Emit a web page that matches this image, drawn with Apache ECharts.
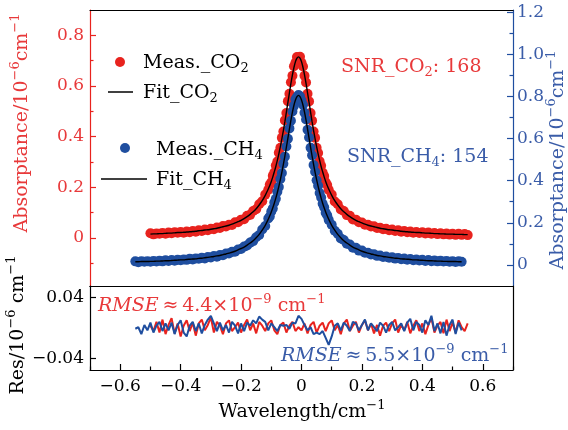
<!DOCTYPE html>
<html><head><meta charset="utf-8">
<script src="https://cdn.jsdelivr.net/npm/echarts@6/dist/echarts.min.js"></script>
<style>html,body{margin:0;padding:0;background:#fff}#c{width:568px;height:430px}</style>
</head><body><div id="c"></div><script>
// ---- data ----
const co2X = [-0.50,-0.49,-0.48,-0.47,-0.46,-0.45,-0.44,-0.43,-0.42,-0.41,-0.40,-0.39,-0.38,-0.37,-0.36,-0.35,-0.34,-0.33,-0.32,-0.31,-0.30,-0.29,-0.28,-0.27,-0.26,-0.25,-0.24,-0.23,-0.22,-0.21,-0.20,-0.19,-0.18,-0.17,-0.16,-0.15,-0.14,-0.13,-0.12,-0.11,
 -0.105,-0.10,-0.095,-0.09,-0.085,-0.08,-0.075,-0.07,-0.065,-0.06,-0.055,-0.05,-0.045,-0.04,-0.035,-0.03,-0.025,-0.02,-0.015,-0.01,-0.005,0,0.005,0.01,0.015,0.02,0.025,0.03,0.035,0.04,0.045,0.05,0.055,0.06,0.065,0.07,0.075,0.08,0.085,
 0.09,0.10,0.11,0.12,0.13,0.14,0.15,0.16,0.17,0.18,0.19,0.20,0.21,0.22,0.23,0.24,0.25,0.26,0.27,0.28,0.29,0.30,0.31,0.32,0.33,0.34,0.35,0.36,0.37,0.38,0.39,0.40,0.41,0.42,0.43,0.44,0.45,0.46,0.47,0.48,0.49,0.50,0.51,0.52,0.53,0.54,0.55];
const co2Meas = [0.018,0.014,0.017,0.016,0.019,0.016,0.021,0.018,0.022,0.020,0.023,0.020,0.025,0.022,0.027,0.024,0.030,0.027,0.033,0.030,0.036,0.034,0.041,0.039,0.047,0.045,0.052,0.051,0.062,0.062,0.072,0.074,0.087,0.091,0.106,0.113,0.133,0.145,0.171,0.190,
 0.210,0.220,0.245,0.258,0.286,0.302,0.336,0.356,0.395,0.420,0.464,0.493,0.540,0.569,0.615,0.640,0.678,0.692,0.714,0.712,0.715,0.692,0.677,0.640,0.614,0.569,0.539,0.493,0.463,0.420,0.395,0.356,0.335,0.303,0.285,0.258,0.244,0.220,0.209,
 0.190,0.171,0.144,0.133,0.112,0.106,0.090,0.087,0.073,0.072,0.062,0.061,0.052,0.052,0.045,0.046,0.039,0.040,0.034,0.036,0.030,0.033,0.027,0.030,0.024,0.027,0.022,0.025,0.020,0.023,0.019,0.022,0.017,0.021,0.016,0.019,0.015,0.018,0.014,0.017,0.013,0.016,0.012,0.016,0.012,0.015,0.011];
const co2Fit = [0.015,0.016,0.016,0.017,0.017,0.018,0.019,0.019,0.020,0.021,0.021,0.022,0.023,0.024,0.025,0.026,0.028,0.029,0.031,0.032,0.034,0.036,0.038,0.041,0.044,0.047,0.050,0.054,0.059,0.064,0.069,0.076,0.084,0.093,0.103,0.115,0.130,0.147,0.168,0.193,
 0.207,0.223,0.241,0.261,0.282,0.306,0.332,0.360,0.391,0.424,0.459,0.497,0.535,0.573,0.610,0.644,0.673,0.696,0.710,0.715,0.710,0.696,0.673,0.644,0.610,0.573,0.535,0.497,0.459,0.424,0.391,0.360,0.332,0.306,0.282,0.261,0.241,0.223,0.207,
 0.193,0.168,0.147,0.130,0.115,0.103,0.093,0.084,0.076,0.069,0.064,0.059,0.054,0.050,0.047,0.044,0.041,0.038,0.036,0.034,0.032,0.031,0.029,0.028,0.026,0.025,0.024,0.023,0.022,0.021,0.021,0.020,0.019,0.019,0.018,0.017,0.017,0.016,0.016,0.015,0.015,0.015,0.014,0.014,0.014,0.013,0.013];

const ch4X = [-0.55,-0.54,-0.53,-0.52,-0.51,-0.50,-0.49,-0.48,-0.47,-0.46,-0.45,-0.44,-0.43,-0.42,-0.41,-0.40,-0.39,-0.38,-0.37,-0.36,-0.35,-0.34,-0.33,-0.32,-0.31,-0.30,-0.29,-0.28,-0.27,-0.26,-0.25,-0.24,-0.23,-0.22,-0.21,-0.20,-0.19,-0.18,-0.17,-0.16,-0.15,-0.14,-0.13,-0.12,-0.11,
 -0.105,-0.10,-0.095,-0.09,-0.085,-0.08,-0.075,-0.07,-0.065,-0.06,-0.055,-0.05,-0.045,-0.04,-0.035,-0.03,-0.025,-0.02,-0.015,-0.01,-0.005,0,0.005,0.01,0.015,0.02,0.025,0.03,0.035,0.04,0.045,0.05,0.055,0.06,0.065,0.07,0.075,0.08,0.085,
 0.09,0.10,0.11,0.12,0.13,0.14,0.15,0.16,0.17,0.18,0.19,0.20,0.21,0.22,0.23,0.24,0.25,0.26,0.27,0.28,0.29,0.30,0.31,0.32,0.33,0.34,0.35,0.36,0.37,0.38,0.39,0.40,0.41,0.42,0.43,0.44,0.45,0.46,0.47,0.48,0.49,0.50,0.51,0.52,0.53];
const ch4Meas = [0.017,0.013,0.018,0.015,0.018,0.015,0.019,0.016,0.020,0.017,0.022,0.019,0.023,0.020,0.025,0.022,0.026,0.024,0.029,0.026,0.031,0.029,0.034,0.031,0.038,0.035,0.042,0.039,0.047,0.046,0.054,0.054,0.062,0.063,0.073,0.076,0.087,0.092,0.106,0.113,0.131,0.142,0.168,0.185,0.220,
 0.230,0.254,0.268,0.296,0.314,0.347,0.370,0.408,0.436,0.480,0.514,0.562,0.599,0.648,0.684,0.728,0.755,0.786,0.797,0.806,0.801,0.780,0.760,0.722,0.690,0.642,0.605,0.556,0.520,0.474,0.442,0.402,0.376,0.341,0.320,0.290,0.274,0.248,0.236,
 0.214,0.191,0.162,0.148,0.126,0.118,0.101,0.097,0.082,0.081,0.068,0.068,0.058,0.058,0.050,0.051,0.043,0.045,0.038,0.040,0.034,0.036,0.030,0.033,0.027,0.030,0.025,0.028,0.022,0.026,0.021,0.024,0.019,0.023,0.018,0.021,0.017,0.020,0.016,0.019,0.015,0.018,0.014,0.017,0.015];
const ch4Fit = [0.015,0.015,0.016,0.016,0.016,0.017,0.017,0.018,0.018,0.019,0.020,0.020,0.021,0.022,0.023,0.024,0.024,0.026,0.027,0.028,0.029,0.031,0.032,0.034,0.036,0.038,0.040,0.043,0.045,0.049,0.052,0.056,0.060,0.065,0.071,0.078,0.085,0.094,0.104,0.115,0.129,0.145,0.165,0.188,0.217,
 0.233,0.251,0.271,0.293,0.317,0.344,0.373,0.405,0.439,0.477,0.517,0.559,0.602,0.645,0.687,0.725,0.758,0.783,0.799,0.805,0.799,0.783,0.758,0.725,0.687,0.645,0.602,0.559,0.517,0.477,0.439,0.405,0.373,0.344,0.317,0.293,0.271,0.251,0.233,
 0.217,0.188,0.165,0.145,0.129,0.115,0.104,0.094,0.085,0.078,0.071,0.065,0.060,0.056,0.052,0.049,0.045,0.043,0.040,0.038,0.036,0.034,0.032,0.031,0.029,0.028,0.027,0.026,0.024,0.024,0.023,0.022,0.021,0.020,0.020,0.019,0.018,0.018,0.017,0.017,0.016,0.016,0.016,0.015,0.015];

const resCo2Start = -0.50;   // residual x starts, step 0.01
const resCo2 = [0.003,-0.004,0.008,-0.006,0.011,-0.008,0.004,0.013,-0.007,0.006,
 -0.011,0.003,0.010,-0.004,0.007,-0.010,0.006,0.011,-0.003,0.004,
 0.014,-0.006,0.008,0.003,-0.008,0.006,0.010,-0.004,0.001,0.007,
 -0.006,0.004,0.011,-0.003,0.006,-0.007,0.008,0.003,-0.004,0.006,
 0.010,-0.003,-0.008,0.004,0.007,-0.006,0.003,0.008,-0.004,0.001,
 -0.003,0.006,-0.007,0.004,0.008,-0.006,0.003,0.007,-0.004,0.006,
 0.010,-0.003,0.004,-0.008,0.006,0.011,-0.004,0.003,0.008,-0.006,
 0.004,0.010,-0.003,0.006,-0.007,0.004,-0.010,0.003,0.007,-0.004,
 0.006,0.011,-0.006,0.004,-0.003,0.008,-0.007,0.003,0.010,-0.004,
 0.006,-0.008,0.004,0.013,-0.006,0.003,0.008,-0.007,0.011,-0.004,
 0.007,-0.006,0.010,0.001,-0.004,0.006];
const resCh4Start = -0.55;
const resCh4 = [-0.001,0.001,-0.008,0.004,-0.003,0.007,-0.006,0.003,0.008,-0.004,
 0.006,-0.003,0.007,-0.008,0.004,0.010,-0.006,-0.011,0.003,0.008,
 -0.004,0.006,-0.007,0.004,0.011,0.016,0.006,-0.004,0.007,-0.003,
 0.004,-0.006,0.008,0.003,-0.007,0.006,-0.004,0.007,0.003,0.010,
 0.006,0.015,0.011,0.008,-0.003,0.006,0.001,-0.004,0.004,0.003,
 0.004,-0.001,0.007,0.006,0.016,0.012,0.004,-0.003,0.001,-0.008,
 -0.006,-0.008,-0.004,-0.013,-0.022,-0.011,0.003,0.006,-0.003,0.007,
 0.003,-0.004,0.008,0.006,-0.003,0.004,0.011,-0.003,0.006,0.001,
 -0.004,0.007,0.003,-0.006,0.004,0.008,-0.003,0.001,0.006,-0.004,
 0.007,0.012,-0.003,0.008,0.004,-0.006,0.010,0.004,0.016,-0.004,
 0.006,-0.007,0.008,-0.010,0.004,0.011,-0.008,0.007,-0.003];

const xTicks = [-0.6,-0.4,-0.2,0,0.2,0.4,0.6];
const xMinor = [-0.7,-0.5,-0.3,-0.1,0.1,0.3,0.5,0.7];
const leftTicks = [0,0.2,0.4,0.6,0.8];
const leftMinor = [-0.1,0.1,0.3,0.5,0.7];
const rightTicks = [0,0.2,0.4,0.6,0.8,1.0,1.2];
const rightMinor = [0.1,0.3,0.5,0.7,0.9,1.1];
const resTicks = [-0.04,0.04];

// ---- style ----
const F = 'DejaVu Serif';
const RED = '#e8231e', BLUE = '#1f4e9f', RED_T = '#e8393a', BLUE_T = '#3a5ca8';

const zip = (xs, ys) => xs.map((x, i) => [x, ys[i]]);
const seq = (start, arr) => arr.map((v, i) => [+(start + i * 0.01).toFixed(3), v]);
const fmt = d => v => {
  if (Math.abs(v) < 1e-9) return '0';
  return (v < 0 ? '\u2212' : '') + Math.abs(v).toFixed(d);
};
function rich(size) {
  const s = Math.round(size * 0.7);
  return {
    n: {fontFamily: F, fontSize: size, lineHeight: size + 6},
    i: {fontFamily: F, fontSize: size, fontStyle: 'italic', lineHeight: size + 6},
    sup: {fontFamily: F, fontSize: s, lineHeight: s, verticalAlign: 'top'},
    sub: {fontFamily: F, fontSize: s, lineHeight: s + 3, verticalAlign: 'bottom'}
  };
}
function txt(str, x, y, color, size, align, rot) {
  return {type: 'text', x: x, y: y, rotation: rot || 0, z: 100,
    style: {text: str, rich: rich(size), fill: color, font: size + 'px "' + F + '"',
      align: align || 'left', verticalAlign: 'middle', textAlign: align || 'left', textVerticalAlign: 'middle'}};
}

const hidden = {show: false};
const line = c => ({show: true, onZero: false, lineStyle: {color: c, width: 1.2}});
const noLine = {show: false, onZero: false};
const chart = echarts.init(document.getElementById('c'), null, {renderer: 'canvas'});
const lab = (vals, color, d, margin) => ({show: true, customValues: vals, formatter: fmt(d), color: color,
  fontFamily: F, fontSize: 17, margin: margin});
const tick = (vals, color, len) => ({show: true, customValues: vals, inside: true, length: len, lineStyle: {color: color, width: 1.2}});

chart.setOption({
  animation: false,
  backgroundColor: '#fff',
  grid: [
    {left: 90, right: 55, top: 10, height: 276},
    {left: 90, right: 55, top: 286, height: 84}
  ],
  xAxis: [
    {gridIndex: 0, type: 'value', min: -0.7, max: 0.7, position: 'bottom', axisLine: line('#000'), axisTick: hidden, axisLabel: hidden, splitLine: hidden},
    {gridIndex: 0, type: 'value', min: -0.7, max: 0.7, position: 'top', axisLine: line('#000'), axisTick: hidden, axisLabel: hidden, splitLine: hidden},
    {gridIndex: 1, type: 'value', min: -0.7, max: 0.7, position: 'bottom', axisLine: line('#000'),
      axisTick: tick(xTicks, '#000', 6), axisLabel: lab(xTicks, '#000', 1, 8), splitLine: hidden},
    {gridIndex: 1, type: 'value', min: -0.7, max: 0.7, position: 'bottom', axisLine: noLine,
      axisTick: tick(xMinor, '#000', 3.5), axisLabel: hidden, splitLine: hidden},
    {gridIndex: 1, type: 'value', min: -0.7, max: 0.7, position: 'top', axisLine: line('#000'), axisTick: hidden, axisLabel: hidden, splitLine: hidden}
  ],
  yAxis: [
    {gridIndex: 0, type: 'value', min: -0.19, max: 0.9, position: 'left', axisLine: line(RED),
      axisTick: tick(leftTicks, RED, 6), axisLabel: lab(leftTicks, RED_T, 1, 6), splitLine: hidden},
    {gridIndex: 0, type: 'value', min: -0.19, max: 0.9, position: 'left', axisLine: noLine,
      axisTick: tick(leftMinor, RED, 3.5), axisLabel: hidden, splitLine: hidden},
    {gridIndex: 0, type: 'value', min: -0.1, max: 1.21, position: 'right', axisLine: line(BLUE),
      axisTick: tick(rightTicks, BLUE, 6), axisLabel: lab(rightTicks, BLUE_T, 1, 4), splitLine: hidden},
    {gridIndex: 0, type: 'value', min: -0.1, max: 1.21, position: 'right', axisLine: noLine,
      axisTick: tick(rightMinor, BLUE, 3.5), axisLabel: hidden, splitLine: hidden},
    {gridIndex: 1, type: 'value', min: -0.055, max: 0.055, position: 'left', axisLine: line('#000'),
      axisTick: tick(resTicks, '#000', 6), axisLabel: lab(resTicks, '#000', 2, 6), splitLine: hidden},
    {gridIndex: 1, type: 'value', min: -0.055, max: 0.055, position: 'right', axisLine: line('#000'),
      axisTick: hidden, axisLabel: hidden, splitLine: hidden}
  ],
  series: [
    {name: 'Meas._CO2', type: 'scatter', xAxisIndex: 0, yAxisIndex: 0, data: zip(co2X, co2Meas),
      symbol: 'circle', symbolSize: 10, itemStyle: {color: RED, opacity: 1}},
    {name: 'Meas._CH4', type: 'scatter', xAxisIndex: 0, yAxisIndex: 2, data: zip(ch4X, ch4Meas),
      symbol: 'circle', symbolSize: 10, itemStyle: {color: BLUE, opacity: 1}},
    {name: 'Fit_CO2', type: 'line', xAxisIndex: 0, yAxisIndex: 0, data: zip(co2X, co2Fit), showSymbol: false,
      symbol: 'none', smooth: 0.3, lineStyle: {color: '#000', width: 1.4}, z: 5},
    {name: 'Fit_CH4', type: 'line', xAxisIndex: 0, yAxisIndex: 2, data: zip(ch4X, ch4Fit), showSymbol: false,
      symbol: 'none', smooth: 0.3, lineStyle: {color: '#000', width: 1.4}, z: 5},
    {name: 'Res_CO2', type: 'line', xAxisIndex: 2, yAxisIndex: 4, data: seq(resCo2Start, resCo2), symbol: 'none',
      lineStyle: {color: RED, width: 2}},
    {name: 'Res_CH4', type: 'line', xAxisIndex: 2, yAxisIndex: 4, data: seq(resCh4Start, resCh4), symbol: 'none',
      lineStyle: {color: BLUE, width: 2}}
  ],
  graphic: [
    {type: 'circle', shape: {cx: 120, cy: 62, r: 5}, style: {fill: RED}, z: 100},
    {type: 'line', shape: {x1: 108, y1: 92, x2: 133, y2: 92}, style: {stroke: '#000', lineWidth: 1.5}, z: 100},
    {type: 'circle', shape: {cx: 125, cy: 148, r: 5}, style: {fill: BLUE}, z: 100},
    {type: 'line', shape: {x1: 101, y1: 179, x2: 147, y2: 179}, style: {stroke: '#000', lineWidth: 1.5}, z: 100},
    txt('{n|Meas._CO}{sub|2}', 143, 63, '#000', 19),
    txt('{n|Fit_CO}{sub|2}', 143, 93, '#000', 19),
    txt('{n|Meas._CH}{sub|4}', 156, 150, '#000', 19),
    txt('{n|Fit_CH}{sub|4}', 156, 180, '#000', 19),
    txt('{n|SNR_CO}{sub|2}{n|: 168}', 341, 67, RED_T, 19),
    txt('{n|SNR_CH}{sub|4}{n|: 154}', 347, 157, BLUE_T, 19),
    txt('{i|RMSE}{n|\u2009\u2248\u20094.4\u00d710}{sup|\u22129}{n| cm}{sup|\u22121}', 98, 306, RED_T, 19),
    txt('{i|RMSE}{n|\u2009\u2248\u20095.5\u00d710}{sup|\u22129}{n| cm}{sup|\u22121}', 281, 356, BLUE_T, 19),
    txt('{n|Absorptance/10}{sup|\u22126}{n|cm}{sup|\u22121}', 22, 123, RED_T, 19, 'center', Math.PI / 2),
    txt('{n|Absorptance/10}{sup|\u22126}{n|cm}{sup|\u22121}', 558, 160, BLUE_T, 19, 'center', Math.PI / 2),
    txt('{n|Res/10}{sup|\u22126}{n| cm}{sup|\u22121}', 18, 325, '#000', 19, 'center', Math.PI / 2),
    txt('{n|Wavelength/cm}{sup|\u22121}', 302, 412, '#000', 19, 'center')
  ]
});
</script></body></html>
